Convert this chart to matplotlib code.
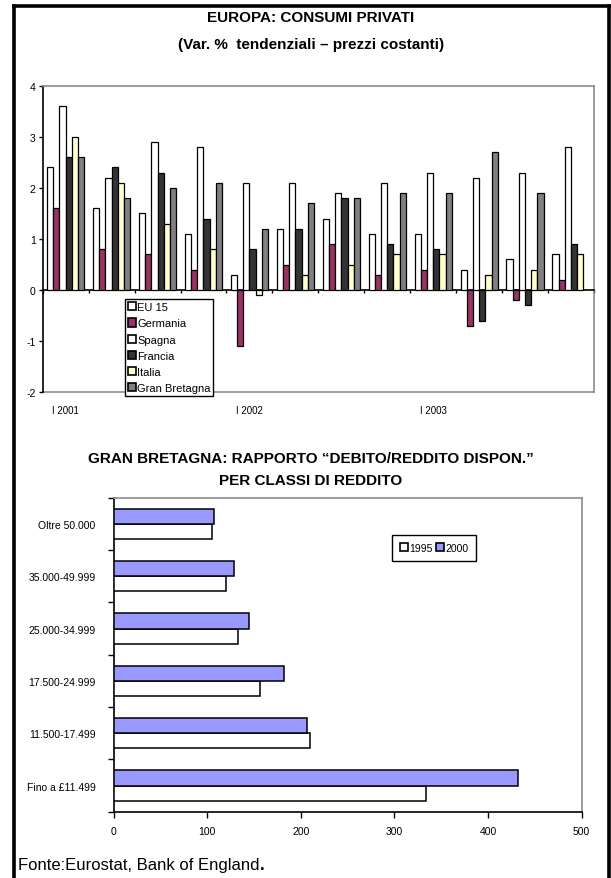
import numpy as np
import matplotlib.pyplot as plt
import matplotlib.transforms as mtransforms
from matplotlib.lines import Line2D
from matplotlib.patches import Patch

plt.rcParams['font.family'] = ['Liberation Sans', 'DejaVu Sans']
plt.rcParams['axes.unicode_minus'] = False

# Consumi privati, var. % tendenziali (trimestri 2001-2003)
quarters = ['I 2001', 'II 2001', 'III 2001', 'IV 2001',
            'I 2002', 'II 2002', 'III 2002', 'IV 2002',
            'I 2003', 'II 2003', 'III 2003', 'IV 2003']
eu15 = [2.4, 1.6, 1.5, 1.1, 0.3, 1.2, 1.4, 1.1, 1.1, 0.4, 0.6, 0.7]
germania = [1.6, 0.8, 0.7, 0.4, -1.1, 0.5, 0.9, 0.3, 0.4, -0.7, -0.2, 0.2]
spagna = [3.6, 2.2, 2.9, 2.8, 2.1, 2.1, 1.9, 2.1, 2.3, 2.2, 2.3, 2.8]
francia = [2.6, 2.4, 2.3, 1.4, 0.8, 1.2, 1.8, 0.9, 0.8, -0.6, -0.3, 0.9]
italia = [3.0, 2.1, 1.3, 0.8, -0.1, 0.3, 0.5, 0.7, 0.7, 0.3, 0.4, 0.7]
gran_bretagna = [2.6, 1.8, 2.0, 2.1, 1.2, 1.7, 1.8, 1.9, 1.9, 2.7, 1.9, np.nan]

# Rapporto debito/reddito disponibile per classi di reddito (dal basso)
classi = ['Fino a £11.499', '11.500-17.499', '17.500-24.999',
          '25.000-34.999', '35.000-49.999', 'Oltre 50.000']
debito_1995 = [334, 210, 156, 133, 120, 105]
debito_2000 = [432, 207, 182, 145, 129, 107]

series = [('EU 15', eu15, 'white'),
          ('Germania', germania, '#993366'),
          ('Spagna', spagna, 'white'),
          ('Francia', francia, '#333333'),
          ('Italia', italia, '#FFFFCC'),
          ('Gran Bretagna', gran_bretagna, '#808080')]

W, H = 611, 879
fig = plt.figure(figsize=(W / 100, H / 100), dpi=100)

# ---- grafico 1: barre verticali raggruppate
ax1 = fig.add_axes([42.7 / W, 1 - 393.3 / H, (594 - 42.7) / W, (393.3 - 86.7) / H])
x = np.arange(len(quarters))
bw = 0.135
for i, (name, vals, col) in enumerate(series):
    ax1.bar(x + (i - 2.5) * bw, vals, width=bw, color=col,
            edgecolor='black', linewidth=0.9, label=name, zorder=3)

ax1.set_xlim(-0.5, len(quarters) - 0.5)
ax1.set_ylim(-2, 4)
ax1.set_yticks(range(-2, 5))
ax1.tick_params(axis='y', direction='out', length=3, width=1, labelsize=7.5, pad=2)
ax1.spines['left'].set_linewidth(1.2)
ax1.spines['bottom'].set_position(('data', 0))
ax1.spines['bottom'].set_linewidth(1.2)
for s in ('top', 'right'):
    ax1.spines[s].set_color('#8c8c8c')
    ax1.spines[s].set_linewidth(1.2)
ax1.axhline(-2, color='#8c8c8c', lw=1.2, clip_on=False, zorder=1)
ax1.set_xticks(np.arange(-0.5, len(quarters), 1))
ax1.set_xticklabels([])
ax1.tick_params(axis='x', direction='out', length=2.5, width=1)

trans = mtransforms.blended_transform_factory(ax1.transData, ax1.transAxes)
for i, q in enumerate(quarters):
    if q.startswith('I '):
        ax1.text(i, -0.058, q, transform=trans, ha='center', va='center', fontsize=7)

handles = [Patch(facecolor=c, edgecolor='black', linewidth=1.2) for _, _, c in series]
leg1 = ax1.legend(handles, [s[0] for s in series], loc='lower left',
                  bbox_to_anchor=(0.149, -0.012), fontsize=8, frameon=True,
                  fancybox=False, edgecolor='black', framealpha=1,
                  handlelength=0.75, handleheight=0.75, handletextpad=0.1,
                  labelspacing=0.56, borderpad=0.25, borderaxespad=0)
leg1.get_frame().set_linewidth(1.0)
leg1.set_zorder(5)

fig.text(311 / W, 1 - 18 / H, 'EUROPA: CONSUMI PRIVATI', ha='center', va='center',
         fontsize=11, fontweight='bold')
fig.text(311 / W, 1 - 45 / H, '(Var. %  tendenziali \u2013 prezzi costanti)',
         ha='center', va='center', fontsize=11, fontweight='bold')

# ---- grafico 2: barre orizzontali
ax2 = fig.add_axes([113.5 / W, 1 - 812.7 / H, (581.7 - 113.5) / W, (812.7 - 498.7) / H])
y = np.arange(len(classi))
bh = 0.29
ax2.barh(y - bh / 2, debito_1995, height=bh, color='white', edgecolor='black',
         linewidth=1.1, label='1995', zorder=3)
ax2.barh(y + bh / 2, debito_2000, height=bh, color='#9999FF', edgecolor='black',
         linewidth=1.1, label='2000', zorder=3)
ax2.set_xlim(0, 500)
ax2.set_ylim(-0.5, len(classi) - 0.5)
ax2.set_xticks(range(0, 501, 100))
ax2.tick_params(axis='x', direction='out', length=4, width=1, labelsize=7.5, pad=6)
ax2.set_yticks(y)
ax2.set_yticklabels(classi)
ax2.set_yticks(np.arange(-0.5, len(classi), 1), minor=True)
ax2.tick_params(axis='y', which='major', length=0, labelsize=7.5, pad=13)
ax2.tick_params(axis='y', which='minor', direction='out', length=4, width=1)
for s in ('left', 'bottom'):
    ax2.spines[s].set_linewidth(1.2)
for s in ('top', 'right'):
    ax2.spines[s].set_color('#8c8c8c')
    ax2.spines[s].set_linewidth(1.2)

h2 = [Patch(facecolor='white', edgecolor='black', linewidth=1.2),
      Patch(facecolor='#9999FF', edgecolor='black', linewidth=1.2)]
leg2 = ax2.legend(h2, ['1995', '2000'], loc='center', bbox_to_anchor=(0.685, 0.84),
                  ncol=2, fontsize=7.5, frameon=True, fancybox=False,
                  edgecolor='black', framealpha=1, handlelength=0.75,
                  handleheight=0.75, handletextpad=0.15, columnspacing=0.3,
                  borderpad=0.75)
leg2.get_frame().set_linewidth(1.0)

fig.text(311 / W, 1 - 459 / H, 'GRAN BRETAGNA: RAPPORTO \u201cDEBITO/REDDITO DISPON.\u201d',
         ha='center', va='center', fontsize=11, fontweight='bold')
fig.text(311 / W, 1 - 481 / H, 'PER CLASSI DI REDDITO', ha='center', va='center',
         fontsize=11, fontweight='bold')

# fonte, con il punto finale in grassetto subito dopo il testo
src = fig.text(18 / W, 1 - 866 / H, 'Fonte:Eurostat, Bank of England', ha='left',
               va='center', fontsize=12)
fig.canvas.draw()
bb = src.get_window_extent(renderer=fig.canvas.get_renderer())
fig.text((bb.x1 + 0.5) / W, 1 - 866 / H, '.', ha='left', va='center', fontsize=12,
         fontweight='bold')

# cornice
frame = dict(color='black', linewidth=2.6, solid_capstyle='projecting')
fig.add_artist(Line2D([13.5 / W, 13.5 / W], [0, 1 - 7 / H], **frame))
fig.add_artist(Line2D([609 / W, 609 / W], [0, 1 - 7 / H], **frame))
fig.add_artist(Line2D([13.5 / W, 609 / W], [1 - 7 / H, 1 - 7 / H], **frame))

fig.savefig('out.png', dpi=100)
